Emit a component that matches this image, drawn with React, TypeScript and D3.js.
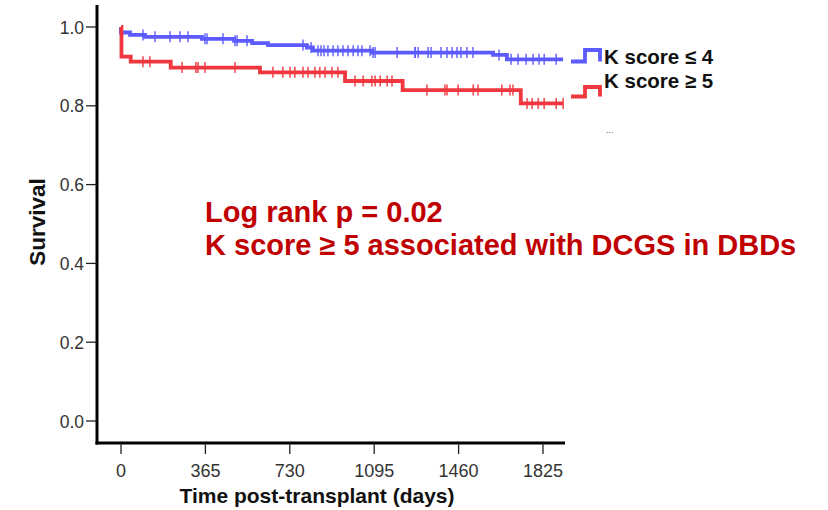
import React from "react";
import * as d3 from "d3";

// Kaplan–Meier step estimates: event days and survival after each event
const lowDays = [0, 0, 39, 104, 350, 489, 567, 636, 804, 830, 1086, 1609, 1669, 1912];
const lowSurv = [1.0, 0.986, 0.980, 0.975, 0.970, 0.965, 0.959, 0.954, 0.948, 0.940, 0.935, 0.929, 0.918, 0.918];
const highDays = [0, 2, 42, 215, 601, 969, 1218, 1729, 1912];
const highSurv = [1.0, 0.925, 0.912, 0.897, 0.885, 0.863, 0.840, 0.806, 0.806];

// Censored observation days
const lowCensor = [4, 95, 147, 212, 255, 290, 363, 372, 441, 493, 502, 545, 787, 822, 852, 865, 878, 895, 917, 938, 960, 982, 1004, 1025, 1042, 1077, 1090, 1099, 1194, 1272, 1272, 1285, 1328, 1341, 1384, 1410, 1432, 1453, 1470, 1496, 1522, 1635, 1687, 1717, 1752, 1782, 1808, 1830, 1882];
const highCensor = [95, 125, 264, 324, 333, 363, 493, 657, 700, 731, 752, 787, 809, 839, 860, 882, 912, 938, 1012, 1047, 1085, 1099, 1121, 1151, 1172, 1323, 1401, 1410, 1458, 1523, 1544, 1647, 1682, 1695, 1756, 1778, 1804, 1830, 1882, 1912];

const xTicks = [0, 365, 730, 1095, 1460, 1825];
const yTicks = [0.0, 0.2, 0.4, 0.6, 0.8, 1.0];

const seriesNames = ["K score ≤ 4", "K score ≥ 5"];
const seriesColors = ["#5b5bff", "#f0373f"];
const noteLines = ["Log rank p = 0.02", "K score ≥ 5 associated with DCGS in DBDs"];

const W = 828;
const H = 510;

export default function App() {
  const x = d3.scaleLinear().domain([0, 1825]).range([121, 543]);
  const y = d3.scaleLinear().domain([0, 1]).range([421, 27]);

  const stepLine = d3
    .line<[number, number]>()
    .x((d) => x(d[0]))
    .y((d) => y(d[1]))
    .curve(d3.curveStepAfter);

  const series = [
    { days: lowDays, surv: lowSurv, censor: lowCensor },
    { days: highDays, surv: highSurv, censor: highCensor },
  ];

  // survival value at a given day from the step function
  const survAt = (days: number[], surv: number[], t: number) => {
    let v = surv[0];
    for (let i = 0; i < days.length; i++) if (days[i] <= t) v = surv[i];
    return v;
  };

  const font = "'Liberation Sans', Arial, Helvetica, sans-serif";
  const axisLeft = 97;
  const axisBottom = 443;

  return (
    <svg
      width={W}
      height={H}
      style={{ position: "absolute", left: 0, top: 0, background: "#fff" }}
      fontFamily={font}
    >
      <rect width={W} height={H} fill="#fff" />

      {/* curves */}
      {series.map((s, i) => (
        <g key={i}>
          <path
            d={stepLine(s.days.map((d, j) => [d, s.surv[j]] as [number, number])) || ""}
            fill="none"
            stroke={seriesColors[i]}
            strokeWidth={3.8}
            strokeLinejoin="miter"
            strokeLinecap="butt"
          />
          {s.censor.map((t, j) => {
            const cx = x(t);
            const cy = y(survAt(s.days, s.surv, t));
            return (
              <line
                key={j}
                x1={cx}
                x2={cx}
                y1={cy - 5.5}
                y2={cy + 5.5}
                stroke={seriesColors[i]}
                strokeWidth={1.4}
              />
            );
          })}
        </g>
      ))}

      {/* axes */}
      <line x1={axisLeft} x2={axisLeft} y1={5} y2={axisBottom + 1.5} stroke="#000" strokeWidth={3} />
      <line x1={axisLeft - 1.5} x2={565} y1={axisBottom} y2={axisBottom} stroke="#000" strokeWidth={3} />

      {yTicks.map((v) => (
        <g key={v}>
          <line x1={86} x2={axisLeft} y1={y(v)} y2={y(v)} stroke="#222" strokeWidth={1.3} />
          <text x={84} y={y(v) + 6.5} textAnchor="end" fontSize={17.5} fill="#333">
            {v.toFixed(1)}
          </text>
        </g>
      ))}
      {xTicks.map((v) => (
        <g key={v}>
          <line x1={x(v)} x2={x(v)} y1={axisBottom} y2={axisBottom + 11} stroke="#222" strokeWidth={1.3} />
          <text x={x(v)} y={477} textAnchor="middle" fontSize={18} fill="#333">
            {v}
          </text>
        </g>
      ))}

      {/* axis titles */}
      <text
        transform="translate(45,222) rotate(-90)"
        textAnchor="middle"
        fontSize={22.5}
        fontWeight="bold"
        fill="#111"
      >
        Survival
      </text>
      <text x={317} y={503} textAnchor="middle" fontSize={21} fontWeight="bold" fill="#111">
        Time post-transplant (days)
      </text>

      {/* legend */}
      {seriesNames.map((name, i) => {
        const base = i === 0 ? 61.5 : 96.5;
        const top = i === 0 ? 50 : 87;
        return (
          <g key={name}>
            <path
              d={`M571,${base} H585 V${top} H600 V${base}`}
              fill="none"
              stroke={seriesColors[i]}
              strokeWidth={3.8}
            />
            <text x={604} y={i === 0 ? 64 : 88} fontSize={20.5} fontWeight="bold" fill="#111">
              {name}
            </text>
          </g>
        );
      })}
      <text x={606} y={133} fontSize={9} fill="#666">
        ...
      </text>

      {/* annotation */}
      {noteLines.map((t, i) => (
        <text key={i} x={205} y={222 + i * 33} fontSize={29} fontWeight="bold" fill="#c00000">
          {t}
        </text>
      ))}
    </svg>
  );
}
